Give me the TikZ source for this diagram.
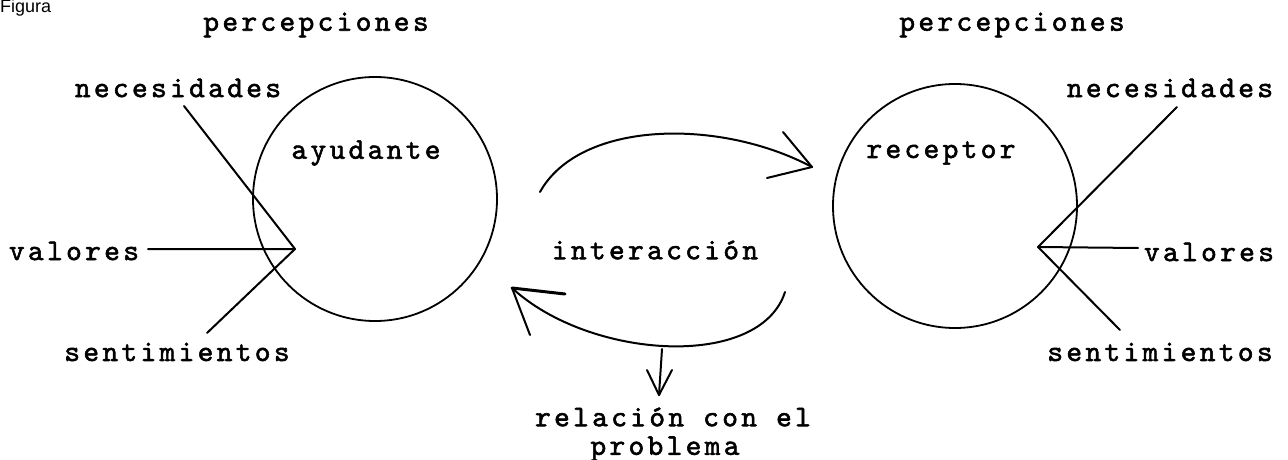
\documentclass[tikz,border=0pt]{standalone}
\usepackage{fontspec}
\setmainfont{Liberation Sans}
\newfontfamily\tw{lmmono10-regular.otf}[LetterSpace=11,FakeBold=1.8]
\begin{document}
\begin{tikzpicture}[x=1pt,y=-1pt,
  lab/.style={font=\tw\fontsize{30}{32}\selectfont, inner sep=0pt, anchor=center},
  ln/.style={line width=2pt, line cap=round, line join=round},
  circ/.style={line width=1.8pt}]
\useasboundingbox (0,0) rectangle (1288,460);
\node[font=\fontsize{18}{20}\selectfont, anchor=base west, inner sep=0pt] (fig) at (0,13) {Figura};
% titles
\node[lab] (pl) at (316,25) {percepciones};
\node[lab] (pr) at (1012,25) {percepciones};
% left side
\node[lab] (nl) at (178,88) {necesidades};
\node[lab] (vl) at (74,251) {valores};
\node[lab] (sl) at (177,352) {sentimientos};
\draw[circ] (375,199) circle[radius=122];
\node[lab] (ay) at (366,153) {ayudante};
\coordinate (vxl) at (295,249);
\coordinate (nle) at (184,106);
\coordinate (vle) at (148,249);
\coordinate (sle) at (207,333);
\draw[ln] (nle) -- (vxl) -- (vle);
\draw[ln] (vxl) -- (sle);
% right side
\draw[circ] (955,206) circle[radius=122];
\node[lab] (re) at (941,153) {receptor};
\node[lab] (nr) at (1170,88) {necesidades};
\node[lab] (vr) at (1209,252) {valores};
\node[lab] (sr) at (1160,352) {sentimientos};
\coordinate (vxr) at (1038,247);
\coordinate (nre) at (1177,107);
\coordinate (vre) at (1138,248);
\coordinate (sre) at (1120,330);
\draw[ln] (nre) -- (vxr) -- (vre);
\draw[ln] (vxr) -- (sre);
% interaction
\node[lab] (in) at (655,250) {interacción};
\coordinate (ts) at (540,192);
\coordinate (tt) at (812,167);
\draw[ln] (ts) .. controls (580,120) and (720,118) .. (tt);
\draw[ln] (783,132) -- (tt) -- (767,178);
\coordinate (bs) at (785,292);
\coordinate (bt) at (512,288);
\draw[ln] (bs) .. controls (760,370) and (590,360) .. (bt);
\draw[ln, line width=3pt] (bt) -- (565,294);
\draw[ln] (bt) -- (530,335);
% relation
\node[lab] (r1) at (673,417) {relación con el};
\node[lab] (r2) at (665,449) {problema};
\coordinate (dt) at (659,395);
\draw[ln] (662,349) -- (dt);
\draw[ln] (647,370) -- (dt) -- (672,370);
\end{tikzpicture}
\end{document}
